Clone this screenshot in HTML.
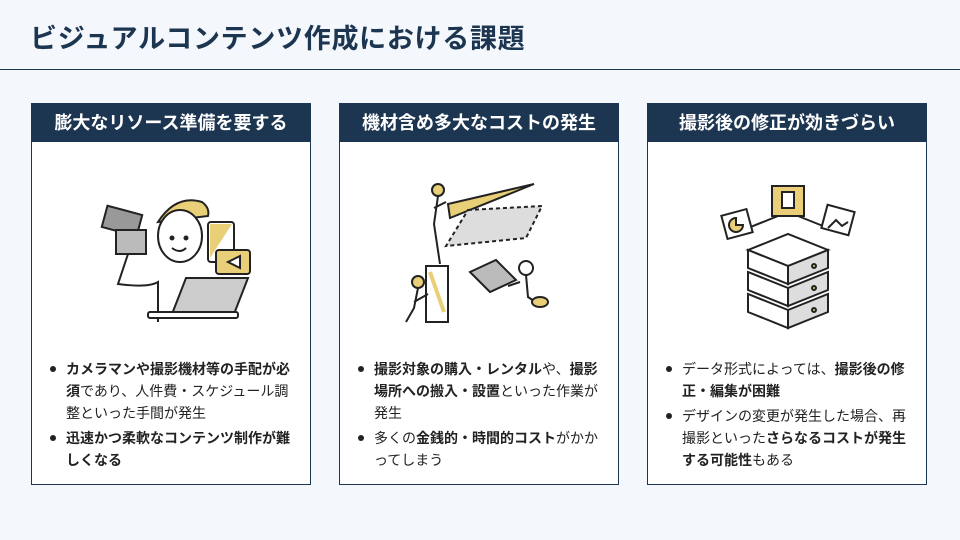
<!DOCTYPE html>
<html><head><meta charset="utf-8"><style>
*{margin:0;padding:0;box-sizing:border-box}
body{width:960px;height:540px;background:#f4f7fb;font-family:"Liberation Sans","Noto Sans CJK JP",sans-serif;color:#222;position:relative;overflow:hidden}
h1{position:absolute;left:30px;top:17px;font-size:27px;font-weight:700;color:#1c3550;letter-spacing:0.7px}
.rule{position:absolute;left:0;top:69px;width:960px;height:1px;background:#1c3550}
.card{position:absolute;top:103px;width:280px;height:382px;background:#fff;border:1px solid #1c3550}
.hd{height:38px;background:#1c3550;color:#fff;font-size:18px;font-weight:700;text-align:center;line-height:38px}
.ill{position:absolute;left:0;top:38px;width:278px;height:200px}
ul{position:absolute;left:14px;top:254px;width:252px;list-style:none;font-size:14px;line-height:22px}
li{position:relative;padding-left:20px;margin-bottom:3px}
li:before{content:"";position:absolute;left:4px;top:8px;width:6px;height:6px;border-radius:50%;background:#222}
b{font-weight:700}
</style></head><body>
<h1>ビジュアルコンテンツ作成における課題</h1>
<div class="rule"></div>

<div class="card" style="left:31px">
<div class="hd">膨大なリソース準備を要する</div>
<svg class="ill" viewBox="0 0 278 200" fill="none" stroke="#222" stroke-width="2">
<rect x="72" y="68" width="36" height="22" fill="#999" transform="rotate(15 90 79)"/>
<rect x="84" y="88" width="30" height="24" fill="#bbb"/>
<path d="M126 80 q18-28 44-20 q8 6 6 14 z" fill="#e8cf78"/>
<ellipse cx="148" cy="94" rx="22" ry="26" fill="#fff"/>
<circle cx="140" cy="96" r="1.5" fill="#222"/><circle cx="154" cy="96" r="1.5" fill="#222"/>
<path d="M140 106 q8 6 14 0"/>
<path d="M96 112 l-10 30 q30 4 40 -2 l0 40"/>
<rect x="176" y="80" width="26" height="40" rx="3" fill="#fff"/>
<path d="M178 82 h22 l-22 34 z" fill="#e8cf78" stroke="none"/>
<rect x="184" y="108" width="34" height="24" rx="3" fill="#e8cf78"/>
<path d="M208 114 l-12 6 l12 6 z" fill="#fff"/>
<path d="M140 172 l14 -36 h62 l-14 36 z" fill="#ccc"/>
<rect x="116" y="170" width="90" height="6" rx="2" fill="#fff"/>
</svg>
<ul><li><b>カメラマンや撮影機材等の手配が必須</b>であり、人件費・スケジュール調整といった手間が発生</li><li><b>迅速かつ柔軟なコンテンツ制作が難しくなる</b></li></ul>
</div>

<div class="card" style="left:339px">
<div class="hd">機材含め多大なコストの発生</div>
<svg class="ill" viewBox="0 0 278 200" fill="none" stroke="#222" stroke-width="2">
<path d="M108 62 l86 -20 l-84 34 z" fill="#e8cf78"/>
<path d="M128 68 l74 -4 l-16 32 l-80 8 z" fill="#ddd" stroke-dasharray="4 3"/>
<circle cx="98" cy="48" r="6" fill="#e8cf78"/>
<path d="M98 54 l-4 28 l6 40 M94 66 l12 -6"/>
<rect x="86" y="124" width="22" height="56" fill="#fff"/>
<path d="M90 130 l14 40" stroke="#e8cf78" stroke-width="4"/>
<circle cx="78" cy="140" r="6" fill="#e8cf78"/><path d="M78 146 l-4 20 l-8 14 M74 160 l14 -8"/>
<path d="M130 130 l26 -12 l20 20 l-26 12 z" fill="#bbb"/>
<circle cx="186" cy="126" r="7" fill="#fff"/><path d="M186 133 l2 22 l12 8 M180 140 l-12 4"/>
<ellipse cx="200" cy="160" rx="8" ry="5" fill="#e8cf78"/>
</svg>
<ul><li><b>撮影対象の購入・レンタル</b>や、<b>撮影場所への搬入・設置</b>といった作業が発生</li><li>多くの<b>金銭的・時間的コスト</b>がかかってしまう</li></ul>
</div>

<div class="card" style="left:647px">
<div class="hd">撮影後の修正が効きづらい</div>
<svg class="ill" viewBox="0 0 278 200" fill="none" stroke="#222" stroke-width="2">
<path d="M90 90 l50 -20 M140 70 v-12 M190 90 l-50 -20" />
<rect x="76" y="70" width="26" height="24" fill="#fff" transform="rotate(-15 89 82)"/>
<path d="M88 76 a7 7 0 1 0 7 7 h-7z" fill="#e8cf78"/>
<rect x="124" y="44" width="32" height="30" fill="#e8cf78"/>
<rect x="134" y="50" width="12" height="16" fill="#fff"/>
<rect x="176" y="66" width="28" height="24" fill="#fff" transform="rotate(15 190 78)"/>
<path d="M180 86 l8-8 l6 6 l6-4" stroke="#222"/>
<g fill="#fff">
<path d="M100 108 l40 -16 l40 16 l-40 16 z"/>
<path d="M100 108 v18 l40 16 v-18 z"/><path d="M180 108 v18 l-40 16 v-18 z" fill="#ddd"/>
<path d="M100 130 v18 l40 16 v-18 z"/><path d="M180 130 v18 l-40 16 v-18 z" fill="#ddd"/>
<path d="M100 152 v18 l40 16 v-18 z"/><path d="M180 152 v18 l-40 16 v-18 z" fill="#ddd"/>
</g>
<circle cx="166" cy="124" r="2" fill="#e8cf78"/><circle cx="166" cy="146" r="2" fill="#e8cf78"/><circle cx="166" cy="168" r="2" fill="#e8cf78"/>
</svg>
<ul><li>データ形式によっては、<b>撮影後の修正・編集が困難</b></li><li>デザインの変更が発生した場合、再撮影といった<b>さらなるコストが発生する可能性</b>もある</li></ul>
</div>
</body></html>
